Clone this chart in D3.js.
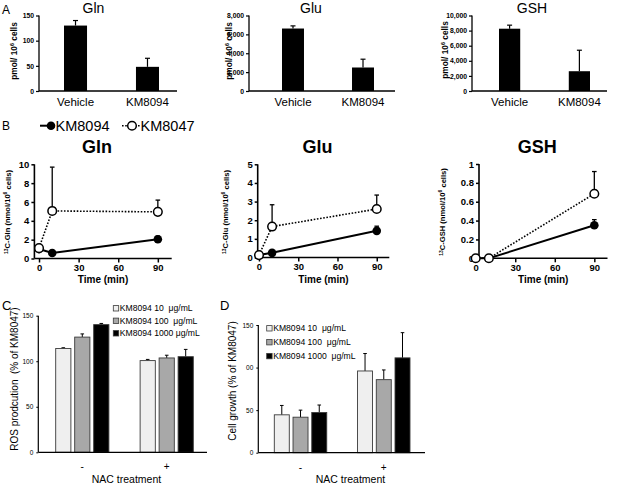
<!DOCTYPE html>
<html><head><meta charset="utf-8">
<script src="https://cdn.jsdelivr.net/npm/d3@7"></script>
<style>
body{margin:0;background:#fff}
svg{font-family:"Liberation Sans",Arial,sans-serif;display:block}
text{white-space:pre}
</style>
</head><body><svg id="fig" width="618" height="487"></svg>
<script>
// ---------- DATA ----------
// Panel A
const aCategories = ["Vehicle", "KM8094"];
const aTitles = ["Gln", "Glu", "GSH"];
const aGlnMean = [130, 48];
const aGlnErrTop = [140, 65];
const aGluMean = [6620, 2490];
const aGluErrTop = [6900, 3370];
const aGshMean = [8250, 2620];
const aGshErrTop = [8720, 5400];
const aGlnTicks = [0, 50, 100, 150];
const aGluTicks = [0, 2000, 4000, 6000, 8000];
const aGshTicks = [0, 2000, 4000, 6000, 8000, 10000];

// Panel B
const bSeries = ["KM8094", "KM8047"];
const bTimes = [0, 10, 90];
const bTimeTicks = [0, 30, 60, 90];
const glnKM8094 = [1.0, 0.58, 2.05];
const glnKM8094Err = [null, null, 2.38];
const glnKM8047 = [1.1, 5.05, 4.95];
const glnKM8047Err = [null, 9.7, 6.2];
const gluKM8094 = [0.13, 0.25, 1.43];
const gluKM8094Err = [null, null, 1.68];
const gluKM8047 = [0.13, 1.66, 2.6];
const gluKM8047Err = [null, 2.83, 3.35];
const gshKM8094 = [0, 0, 0.35];
const gshKM8094Err = [null, null, 0.41];
const gshKM8047 = [0, 0, 0.685];
const gshKM8047Err = [null, null, 0.92];
const bGlnTicks = [0, 2, 4, 6, 8, 10];
const bGluTicks = [0, 1, 2, 3, 4, 5];
const bGshTicks = [0, 0.2, 0.4, 0.6, 0.8, 1];

// Panels C & D
const nacGroups = ["-", "+"];
const doseKeys = ["10", "100", "1000"];
const cLegend = ["KM8094 10  μg/mL", "KM8094 100  μg/mL", "KM8094 1000 μg/mL"];
const dLegend = ["KM8094 10  μg/mL", "KM8094 100  μg/mL", "KM8094 1000  μg/mL"];
const rosMean = [[114, 126.5, 140.2], [100.7, 103.6, 105]];
const rosErrTop = [[114.8, 130, 141.5], [102, 106.6, 113]];
const growthMean = [[44.5, 41.7, 47.2], [96, 85.8, 111.4]];
const growthErrTop = [[55.5, 50, 56], [116.5, 97.2, 141]];
const cdTicks = [0, 50, 100, 150];
const dTickLabels = ["0", "50", "00", "150"];

// ---------- DRAW ----------
const svg = d3.select("#fig");
const fillColors = ["#efefef", "#a8a8a8", "#000000"];

function panelLabel(t, x, y, size) {
  svg.append("text").attr("x", x).attr("y", y).attr("font-size", size).text(t);
}
function styleAxis(g, sw) {
  g.select(".domain").remove();
  g.selectAll(".tick line").attr("stroke", "#000").attr("stroke-width", sw);
}

panelLabel("A", 2, 13.5, 12);
panelLabel("B", 2, 130, 12);
panelLabel("C", 2, 309.5, 13);
panelLabel("D", 220, 310, 13);

// ----- Panel A -----
const aPanels = [
  {title: aTitles[0], mean: aGlnMean, err: aGlnErrTop, ticks: aGlnTicks, ax: 39, xEnd: 177, b0: 64, b1: 159, pi: 0.68, tx: 93.5, lx: 14, ly: 51},
  {title: aTitles[1], mean: aGluMean, err: aGluErrTop, ticks: aGluTicks, ax: 249, xEnd: 395, b0: 282, b1: 374, pi: 0.686, tx: 311, lx: 229, ly: 51},
  {title: aTitles[2], mean: aGshMean, err: aGshErrTop, ticks: aGshTicks, ax: 472, xEnd: 607, b0: 499, b1: 590, pi: 0.696, tx: 532, lx: 445, ly: 50}
];
aPanels.forEach(p => {
  const g = svg.append("g");
  const y = d3.scaleLinear().domain([0, d3.max(p.ticks)]).range([91, 15.5]);
  const x = d3.scaleBand().domain(aCategories).range([p.b0, p.b1]).paddingInner(p.pi).paddingOuter(0);
  // bars
  g.selectAll("rect").data(aCategories).join("rect")
    .attr("x", d => x(d)).attr("width", x.bandwidth())
    .attr("y", (d, i) => y(p.mean[i])).attr("height", (d, i) => y(0) - y(p.mean[i]))
    .attr("fill", "#000");
  // error bars
  aCategories.forEach((c, i) => {
    const cx = x(c) + x.bandwidth() / 2;
    g.append("line").attr("x1", cx).attr("x2", cx).attr("y1", y(p.mean[i])).attr("y2", y(p.err[i])).attr("stroke", "#000").attr("stroke-width", 1.2);
    g.append("line").attr("x1", cx - 2.5).attr("x2", cx + 2.5).attr("y1", y(p.err[i])).attr("y2", y(p.err[i])).attr("stroke", "#000").attr("stroke-width", 1.2);
  });
  // y axis
  const ya = g.append("g").attr("transform", `translate(${p.ax},0)`)
    .call(d3.axisLeft(y).tickValues(p.ticks).tickSize(3).tickSizeOuter(0).tickPadding(2).tickFormat(d3.format(",")));
  styleAxis(ya, 1.2);
  ya.selectAll("text").attr("font-size", 6.8).attr("font-weight", "bold").attr("font-family", "Liberation Sans, Arial");
  g.append("line").attr("x1", p.ax).attr("x2", p.ax).attr("y1", y(d3.max(p.ticks))).attr("y2", y(0)).attr("stroke", "#000").attr("stroke-width", 1.3);
  g.append("line").attr("x1", p.ax).attr("x2", p.xEnd).attr("y1", y(0)).attr("y2", y(0)).attr("stroke", "#000").attr("stroke-width", 1.3);
  // category labels
  const xa = g.append("g").attr("transform", `translate(0,${y(0)})`)
    .call(d3.axisBottom(x).tickSize(0).tickPadding(6.5));
  styleAxis(xa, 0);
  xa.selectAll("text").attr("font-size", 11.5).attr("font-family", "Liberation Sans, Arial");
  // title
  g.append("text").attr("x", p.tx).attr("y", 13).attr("text-anchor", "middle").attr("font-size", 14).text(p.title);
  // y label
  const yl = g.append("text").attr("transform", `translate(${p.lx},${p.ly}) rotate(-90)`)
    .attr("text-anchor", "middle").attr("font-size", 8.3).attr("font-weight", "bold").attr("dy", "0.35em");
  yl.append("tspan").text("pmol/ 10");
  yl.append("tspan").attr("font-size", 5.5).attr("dy", "-0.6em").text("6");
  yl.append("tspan").attr("dy", "0.45em").text(" cells");
});

// ----- Panel B legend -----
{
  const g = svg.append("g");
  const ly = 125.7;
  g.append("line").attr("x1", 40).attr("x2", 55).attr("y1", ly).attr("y2", ly).attr("stroke", "#000").attr("stroke-width", 2);
  g.append("circle").attr("cx", 51).attr("cy", ly).attr("r", 4.3).attr("fill", "#000");
  g.append("text").attr("x", 55.5).attr("y", ly + 5.2).attr("font-size", 14.5).text(bSeries[0]);
  g.append("line").attr("x1", 122).attr("x2", 141).attr("y1", ly).attr("y2", ly).attr("stroke", "#000").attr("stroke-width", 1.6).attr("stroke-dasharray", "1.6,1.6");
  g.append("circle").attr("cx", 132).attr("cy", ly).attr("r", 4.3).attr("fill", "#fff").attr("stroke", "#000").attr("stroke-width", 1.5);
  g.append("text").attr("x", 140.5).attr("y", ly + 5.2).attr("font-size", 14.5).text(bSeries[1]);
}

// ----- Panel B -----
const bPanels = [
  {title: "Gln", s1: glnKM8094, e1: glnKM8094Err, s2: glnKM8047, e2: glnKM8047Err, ticks: bGlnTicks, xd: [-3.5, 100.5], xr: [34.4, 171.7], yr: [258.5, 164.3], lx: 10},
  {title: "Glu", s1: gluKM8094, e1: gluKM8094Err, s2: gluKM8047, e2: gluKM8047Err, ticks: bGluTicks, xd: [-1, 99.6], xr: [257.7, 389.3], yr: [257.5, 164.3], lx: 228},
  {title: "GSH", s1: gshKM8094, e1: gshKM8094Err, s2: gshKM8047, e2: gshKM8047Err, ticks: bGshTicks, xd: [2.5, 100], xr: [479, 607.5], yr: [258.3, 164], lx: 445}
];
bPanels.forEach(p => {
  const g = svg.append("g");
  const x = d3.scaleLinear().domain(p.xd).range(p.xr);
  const y = d3.scaleLinear().domain([0, d3.max(p.ticks)]).range(p.yr);
  // axes
  const ya = g.append("g").attr("transform", `translate(${p.xr[0]},0)`)
    .call(d3.axisLeft(y).tickValues(p.ticks).tickSize(3).tickPadding(2).tickFormat(d => String(d)));
  styleAxis(ya, 1.5);
  ya.selectAll("text").attr("font-size", 9.5).attr("font-weight", "bold").attr("font-family", "Liberation Sans, Arial");
  const xa = g.append("g").attr("transform", `translate(0,${y(0)})`)
    .call(d3.axisBottom(x).tickValues(bTimeTicks).tickSize(4).tickPadding(2));
  styleAxis(xa, 1.5);
  xa.selectAll("text").attr("font-size", 9.5).attr("font-weight", "bold").attr("font-family", "Liberation Sans, Arial");
  g.append("line").attr("x1", p.xr[0]).attr("x2", p.xr[0]).attr("y1", y(d3.max(p.ticks))).attr("y2", y(0)).attr("stroke", "#000").attr("stroke-width", 1.6);
  g.append("line").attr("x1", p.xr[0]).attr("x2", p.xr[1]).attr("y1", y(0)).attr("y2", y(0)).attr("stroke", "#000").attr("stroke-width", 1.6);
  const mid = (p.xr[0] + p.xr[1]) / 2;
  g.append("text").attr("x", mid).attr("y", 283).attr("text-anchor", "middle").attr("font-size", 10).attr("font-weight", "bold").text("Time (min)");
  g.append("text").attr("x", mid - 6).attr("y", 152.5).attr("text-anchor", "middle").attr("font-size", 18).attr("font-weight", "bold").text(p.title);
  // y label
  const yl = g.append("text").attr("transform", `translate(${p.lx},212) rotate(-90)`)
    .attr("text-anchor", "middle").attr("font-size", 7.6).attr("font-weight", "bold").attr("dy", "0.35em");
  yl.append("tspan").attr("font-size", 5).attr("dy", "-0.5em").text("13");
  yl.append("tspan").attr("dy", "0.35em").text(`C-${p.title} (nmol/10`);
  yl.append("tspan").attr("font-size", 5).attr("dy", "-0.6em").text("6");
  yl.append("tspan").attr("dy", "0.45em").text(" cells)");
  // series
  const line = d3.line().x((d, i) => x(bTimes[i])).y(d => y(d));
  const drawErr = (vals, errs) => {
    errs.forEach((e, i) => {
      if (e == null) return;
      const cx = x(bTimes[i]);
      g.append("line").attr("x1", cx).attr("x2", cx).attr("y1", y(vals[i])).attr("y2", y(e)).attr("stroke", "#000").attr("stroke-width", 1.3);
      g.append("line").attr("x1", cx - 2.3).attr("x2", cx + 2.3).attr("y1", y(e)).attr("y2", y(e)).attr("stroke", "#000").attr("stroke-width", 1.3);
    });
  };
  drawErr(p.s1, p.e1);
  drawErr(p.s2, p.e2);
  g.append("path").datum(p.s1).attr("d", line).attr("fill", "none").attr("stroke", "#000").attr("stroke-width", 2);
  g.append("path").datum(p.s2).attr("d", line).attr("fill", "none").attr("stroke", "#000").attr("stroke-width", 1.6).attr("stroke-dasharray", "1.6,1.6");
  g.selectAll("circle.s1").data(p.s1).join("circle").attr("class", "s1")
    .attr("cx", (d, i) => x(bTimes[i])).attr("cy", d => y(d)).attr("r", 4.3).attr("fill", "#000");
  g.selectAll("circle.s2").data(p.s2).join("circle").attr("class", "s2")
    .attr("cx", (d, i) => x(bTimes[i])).attr("cy", d => y(d)).attr("r", 4.3).attr("fill", "#fff").attr("stroke", "#000").attr("stroke-width", 1.5);
});

// ----- Panels C & D -----
const cdPanels = [
  {mean: rosMean, err: rosErrTop, legend: cLegend, ax: 38.3, xEnd: 207, g0: 55.7, g1: 193.3, yr: [452.3, 315.7], tickFmt: d => String(d),
   ylabel: "ROS prodcution  (% of KM8047)", lx: 14, ly: 379, legX: 113.3, legY: 308.3, legStep: 12.5, nacX: 126.5},
  {mean: growthMean, err: growthErrTop, legend: dLegend, ax: 258.3, xEnd: 425, g0: 274.3, g1: 410, yr: [452.7, 325], tickFmt: d => dTickLabels[cdTicks.indexOf(d)],
   ylabel: "Cell growth (% of KM8047)", lx: 232, ly: 381, legX: 266.7, legY: 328.3, legStep: 13.9, nacX: 350.5}
];
cdPanels.forEach(p => {
  const g = svg.append("g");
  const y = d3.scaleLinear().domain([0, 150]).range(p.yr);
  const x0 = d3.scaleBand().domain(nacGroups).range([p.g0, p.g1]).paddingInner(0.37).paddingOuter(0);
  const x1 = d3.scaleBand().domain(doseKeys).range([0, x0.bandwidth()]).paddingInner(0.2).paddingOuter(0);
  nacGroups.forEach((grp, gi) => {
    doseKeys.forEach((k, ki) => {
      const bx = x0(grp) + x1(k);
      const v = p.mean[gi][ki], e = p.err[gi][ki];
      const cx = bx + x1.bandwidth() / 2;
      g.append("line").attr("x1", cx).attr("x2", cx).attr("y1", y(v)).attr("y2", y(e)).attr("stroke", "#000").attr("stroke-width", 1);
      g.append("line").attr("x1", cx - 1.8).attr("x2", cx + 1.8).attr("y1", y(e)).attr("y2", y(e)).attr("stroke", "#000").attr("stroke-width", 1);
      g.append("rect").attr("x", bx).attr("width", x1.bandwidth())
        .attr("y", y(v)).attr("height", y(0) - y(v))
        .attr("fill", fillColors[ki]).attr("stroke", "#3a3a3a").attr("stroke-width", 0.9);
    });
  });
  const ya = g.append("g").attr("transform", `translate(${p.ax},0)`)
    .call(d3.axisLeft(y).tickValues(cdTicks).tickSize(2).tickPadding(3).tickFormat(p.tickFmt));
  styleAxis(ya, 1);
  ya.selectAll("text").attr("font-size", 6.5).attr("font-family", "Liberation Sans, Arial");
  g.append("line").attr("x1", p.ax).attr("x2", p.ax).attr("y1", y(150)).attr("y2", y(0)).attr("stroke", "#000").attr("stroke-width", 1.2);
  g.append("line").attr("x1", p.ax).attr("x2", p.xEnd).attr("y1", y(0)).attr("y2", y(0)).attr("stroke", "#000").attr("stroke-width", 1.3);
  const xa = g.append("g").attr("transform", `translate(0,${y(0)})`)
    .call(d3.axisBottom(x0).tickSize(0).tickPadding(11));
  styleAxis(xa, 0);
  xa.selectAll("text").attr("font-size", 10).attr("font-family", "Liberation Sans, Arial");
  g.append("text").attr("x", p.nacX).attr("y", 483).attr("text-anchor", "middle").attr("font-size", 10.5).text("NAC treatment");
  g.append("text").attr("transform", `translate(${p.lx},${p.ly}) rotate(-90)`).attr("text-anchor", "middle")
    .attr("dy", "0.35em").attr("font-size", 10).text(p.ylabel);
  p.legend.forEach((t, i) => {
    const ly = p.legY + i * p.legStep;
    g.append("rect").attr("x", p.legX).attr("y", ly - 2.7).attr("width", 5.4).attr("height", 5.4)
      .attr("fill", fillColors[i]).attr("stroke", "#3a3a3a").attr("stroke-width", 0.8);
    g.append("text").attr("x", p.legX + 6.5).attr("y", ly + 3).attr("font-size", 8.6).text(t);
  });
});
</script>
</body></html>
